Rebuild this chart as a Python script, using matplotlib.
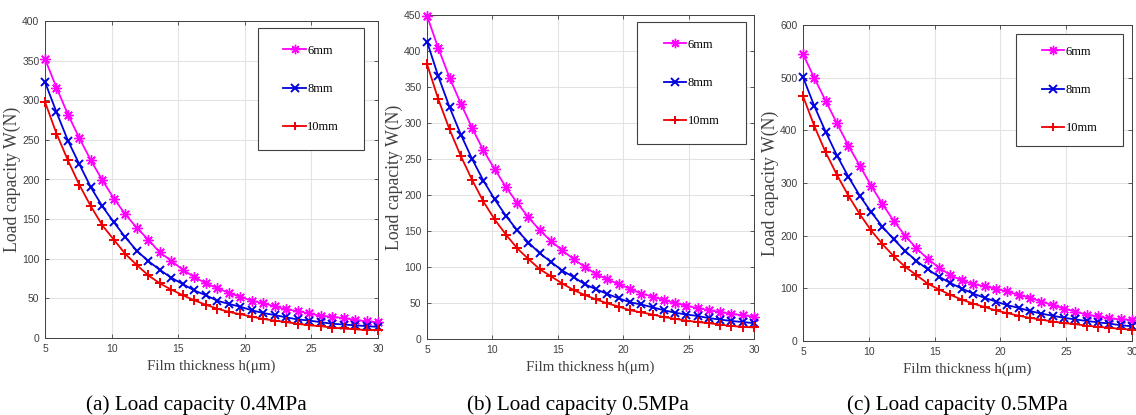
import numpy as np
import matplotlib
matplotlib.use("Agg")
import matplotlib.pyplot as plt
from matplotlib.patches import Rectangle

# ---------------- data ----------------
h = np.linspace(5, 30, 30)
series_labels = ["6mm", "8mm", "10mm"]

a_6mm = [352, 316, 282, 252, 224, 199, 176, 156, 139, 124, 108, 97.5, 86, 77, 69,
         63, 57, 52, 47, 44, 40, 36, 34, 31, 28, 27, 25, 23, 21, 20]
a_8mm = [323, 285, 249, 219, 190, 166, 146, 127, 110, 97, 86, 76, 68, 60, 54,
         47, 43, 39.5, 35, 31.5, 29, 26, 23.5, 22, 20, 18, 17, 16, 15, 14]
a_10mm = [298, 258, 224, 193, 166, 142, 124, 106, 92, 79, 69, 61, 54, 47.5, 42,
          37, 33, 30, 27, 24, 22, 20, 18, 16, 15, 13, 12, 11, 10, 10]

b_6mm = [449, 404, 363, 327, 293, 262, 236, 211, 189, 169, 151, 136, 123, 111, 100,
         90, 83, 76, 70, 63, 59, 54, 50, 46, 43, 40, 37.5, 35, 33, 31]
b_8mm = [413, 365, 322, 284, 250, 220, 194, 171, 151, 134, 119, 107, 95, 86, 76,
         69, 62.5, 56.5, 51, 48, 44, 40, 36.5, 34, 32, 29, 27, 25, 23.6, 22]
b_10mm = [382, 333, 291, 254, 221, 191, 166, 145, 126, 111, 97, 87, 77, 68, 61,
          55, 49.5, 45, 40, 37, 34, 30.5, 28, 25.5, 23.6, 22, 20, 18, 17, 16]

c_6mm = [545, 499, 456, 413, 371, 333, 295, 260, 228, 200, 176, 156, 139, 125, 115,
         108, 104, 99, 94, 87.5, 82, 75, 68, 61.5, 56, 50, 47, 43, 41, 40.5]
c_8mm = [501, 446, 397, 352, 312, 276, 245, 217, 193, 171, 152, 136, 122, 110, 99.5,
         90, 82, 75, 68, 63, 57, 52, 48, 44, 41, 38, 35.5, 33, 30, 28]
c_10mm = [465, 408, 358, 315, 276, 241, 210, 184, 161, 141, 125, 109, 97.6, 87.5, 78.6,
          71, 64.6, 58, 53, 48, 44, 40.5, 37, 34, 32, 29, 27, 25, 23, 21.5]

captions = ["(a) Load capacity 0.4MPa", "(b) Load capacity 0.5MPa", "(c) Load capacity 0.5MPa"]
ylims = [400, 450, 600]
ysteps = [50, 50, 100]
xticks = [5, 10, 15, 20, 25, 30]
xlabel = "Film thickness h(\u03bcm)"
ylabel = "Load capacity W(N)"

panels = [(a_6mm, a_8mm, a_10mm), (b_6mm, b_8mm, b_10mm), (c_6mm, c_8mm, c_10mm)]

# ---------------- style ----------------
colors = ["#FF00FF", "#0000E0", "#EE0000"]
markers = [(8, 2, 0), "x", "+"]
msizes = [7.5, 6, 7]
mews = [1.0, 1.4, 1.4]
serif = ["Liberation Serif", "DejaVu Serif"]
sans = ["Liberation Sans", "DejaVu Sans"]

W, H = 1136, 415
fig = plt.figure(figsize=(W / 100, H / 100), dpi=100)

axes_px = [(45, 21, 378, 338), (427, 15, 754, 339), (803, 25, 1132, 341)]
legend_frac = [(0.640, 0.593, 0.958, 0.978), (0.642, 0.602, 0.976, 0.978), (0.647, 0.617, 0.973, 0.972)]
caption_x = [196, 578, 957]

for i, (px, data) in enumerate(zip(axes_px, panels)):
    x0, y0, x1, y1 = px
    ax = fig.add_axes([x0 / W, 1 - y1 / H, (x1 - x0) / W, (y1 - y0) / H])
    handles = []
    for vals, col, mk, ms, mew, lab in zip(data, colors, markers, msizes, mews, series_labels):
        ln, = ax.plot(h, vals, color=col, marker=mk, markersize=ms,
                      markeredgewidth=mew, linewidth=1.3, label=lab, clip_on=False, zorder=3)
        handles.append(ln)
    ax.set_xlim(5, 30)
    ax.set_ylim(0, ylims[i])
    ax.set_xticks(xticks)
    ax.set_yticks(np.arange(0, ylims[i] + 1, ysteps[i]))
    ax.grid(True, color="#e3e3e3", linewidth=0.8)
    ax.set_axisbelow(True)
    ax.tick_params(direction="in", top=True, right=True, length=3, width=0.6,
                   colors="#404040", labelsize=7.5, pad=4)
    for lbl in ax.get_xticklabels() + ax.get_yticklabels():
        lbl.set_family(sans)
    for sp in ax.spines.values():
        sp.set_color("#404040")
        sp.set_linewidth(0.7)
    ax.set_xlabel(xlabel, family=serif, fontsize=10.8, color="#404040", labelpad=4)
    ax.set_ylabel(ylabel, family=serif, fontsize=12.8, color="#404040", labelpad=1)

    lx0, ly0, lx1, ly1 = legend_frac[i]
    ax.add_patch(Rectangle((lx0, ly0), lx1 - lx0, ly1 - ly0, transform=ax.transAxes,
                           facecolor="white", edgecolor="#404040", linewidth=0.8, zorder=5))
    leg = ax.legend(handles=handles, loc="center",
                    bbox_to_anchor=((lx0 + lx1) / 2, (ly0 + ly1) / 2),
                    frameon=False, prop={"family": serif, "size": 9},
                    labelspacing=2.1, handlelength=1.8, handletextpad=0.1,
                    markerscale=0.9)
    leg.set_zorder(6)

    fig.text(caption_x[i] / W, 1 - 405 / H, captions[i], family=serif, fontsize=15.3,
             ha="center", va="center", color="black")

fig.savefig("out.png", dpi=100, facecolor="white")
